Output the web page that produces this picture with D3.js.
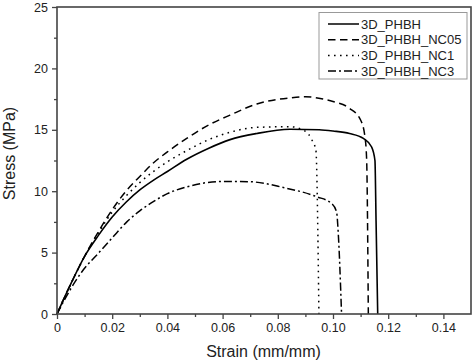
<!DOCTYPE html>
<html>
<head>
<meta charset="utf-8">
<script src="https://cdn.jsdelivr.net/npm/d3@7"></script>
<style>
  body { margin: 0; background: #fff; }
  svg { font-family: "Liberation Sans", Arial, sans-serif; }
</style>
</head>
<body>
<div id="chart"></div>
<script>
// strain (mm/mm), stress (MPa)
var phbh = [[0,0],[0.005,2.45],[0.01,4.7],[0.015,6.4],[0.02,7.9],[0.025,9.1],[0.03,10.1],[0.035,10.9],[0.04,11.6],[0.047,12.6],[0.055,13.5],[0.0627,14.2],[0.0724,14.7],[0.0844,15.04],[0.095,15.0],[0.1,14.9],[0.106,14.7],[0.111,14.3],[0.114,13.6],[0.1152,12.5],[0.1156,7.6],[0.1162,0]];
var nc05 = [[0,0],[0.005,2.45],[0.01,4.7],[0.015,6.7],[0.02,8.5],[0.025,10.0],[0.03,11.2],[0.0349,12.3],[0.04,13.2],[0.047,14.3],[0.055,15.4],[0.0627,16.2],[0.0724,17.1],[0.0844,17.6],[0.09,17.7],[0.0964,17.5],[0.1,17.3],[0.106,16.75],[0.11,15.8],[0.1116,14.4],[0.1122,12.5],[0.1128,0]];
var nc1 = [[0,0],[0.005,2.45],[0.01,4.7],[0.015,6.6],[0.02,8.3],[0.025,9.6],[0.03,10.7],[0.0349,11.6],[0.04,12.4],[0.047,13.3],[0.055,14.2],[0.0627,14.8],[0.0724,15.2],[0.0844,15.25],[0.0899,14.9],[0.0923,14.2],[0.0938,13.35],[0.0949,0]];
var nc3 = [[0,0],[0.0047,1.95],[0.0089,3.4],[0.0156,5.1],[0.02,6.2],[0.0253,7.5],[0.03,8.4],[0.0349,9.15],[0.04,9.8],[0.047,10.35],[0.0603,10.8],[0.07,10.77],[0.082,10.3],[0.0941,9.55],[0.0995,9.0],[0.1013,8.3],[0.1019,6.6],[0.1031,0]];

var seriesNames = ["3D_PHBH", "3D_PHBH_NC05", "3D_PHBH_NC1", "3D_PHBH_NC3"];
var seriesData = [phbh, nc05, nc1, nc3];
var dashes = ["none", "7.5,4.5", "1.6,4.4", "8,3,2,3"];

var xTicks = [0, 0.02, 0.04, 0.06, 0.08, 0.10, 0.12, 0.14];
var yTicks = [0, 5, 10, 15, 20, 25];

var W = 474, H = 364;
var margin = {top: 7, right: 3, bottom: 50, left: 57},
    width = W - margin.left - margin.right,
    height = H - margin.top - margin.bottom;

var x = d3.scaleLinear().domain([0, 0.15]).range([0, width]);
var y = d3.scaleLinear().domain([0, 25]).range([height, 0]);

var svg = d3.select("#chart").append("svg")
    .attr("width", W).attr("height", H)
  .append("g")
    .attr("transform", "translate(" + margin.left + "," + margin.top + ")");

// curves
var line = d3.line()
    .x(function(d) { return x(d[0]); })
    .y(function(d) { return y(d[1]); })
    .curve(d3.curveMonotoneX);

svg.selectAll("path.curve")
    .data(seriesData)
  .enter().append("path")
    .attr("class", "curve")
    .attr("d", line)
    .attr("fill", "none")
    .attr("stroke", "#000")
    .attr("stroke-width", function(d, i) { return i == 0 ? 1.6 : 1.5; })
    .attr("stroke-dasharray", function(d, i) { return dashes[i]; });

// minor ticks
var xAxisMinor = d3.axisBottom(x).tickValues(d3.range(0.01, 0.15, 0.02)).tickSize(3).tickFormat("");
var yAxisMinor = d3.axisLeft(y).tickValues([2.5, 7.5, 12.5, 17.5, 22.5]).tickSize(3).tickFormat("");

var xAxis = d3.axisBottom(x).tickValues(xTicks).tickSize(5).tickPadding(4)
    .tickFormat(function(d) { return d === 0 ? "0" : d3.format(".2f")(d); });
var yAxis = d3.axisLeft(y).tickValues(yTicks).tickSize(5).tickPadding(4);

function styleAxis(g) {
  g.select(".domain").remove();
  g.selectAll("line").attr("stroke", "#444").attr("stroke-width", 1.3);
  g.selectAll("text").attr("fill", "#222").style("font-size", "12.5px");
}

svg.append("g").attr("transform", "translate(0," + height + ")").call(xAxisMinor).call(styleAxis);
svg.append("g").call(yAxisMinor).call(styleAxis);
svg.append("g").attr("transform", "translate(0," + height + ")").call(xAxis).call(styleAxis);
svg.append("g").call(yAxis).call(styleAxis);

// frame
svg.append("rect")
    .attr("x", 0).attr("y", 0)
    .attr("width", width).attr("height", height)
    .attr("fill", "none")
    .attr("stroke", "#444")
    .attr("stroke-width", 1.6);

// axis titles
svg.append("text")
    .attr("x", width / 2 - 0.5)
    .attr("y", height + 43)
    .attr("text-anchor", "middle")
    .style("font-size", "16px")
    .attr("fill", "#222")
    .text("Strain (mm/mm)");

svg.append("text")
    .attr("transform", "rotate(-90)")
    .attr("x", -(height / 2) + 7)
    .attr("y", -42)
    .attr("text-anchor", "middle")
    .style("font-size", "16px")
    .attr("fill", "#222")
    .text("Stress (MPa)");

// legend
var legend = svg.append("g").attr("transform", "translate(" + (319 - margin.left) + "," + (12.5 - margin.top) + ")");
legend.append("rect")
    .attr("width", 148).attr("height", 66.5)
    .attr("fill", "#fff")
    .attr("stroke", "#999")
    .attr("stroke-width", 1);

var rows = legend.selectAll("g.row")
    .data(seriesNames)
  .enter().append("g")
    .attr("class", "row")
    .attr("transform", function(d, i) { return "translate(0," + (11.5 + i * 15.7) + ")"; });

rows.append("line")
    .attr("x1", 9).attr("x2", 40)
    .attr("y1", 0).attr("y2", 0)
    .attr("stroke", "#000")
    .attr("stroke-width", 1.5)
    .attr("stroke-dasharray", function(d, i) { return dashes[i]; });

rows.append("text")
    .attr("x", 42)
    .attr("y", 4.5)
    .style("font-size", "13px")
    .attr("fill", "#222")
    .text(function(d) { return d; });
</script>
</body>
</html>
